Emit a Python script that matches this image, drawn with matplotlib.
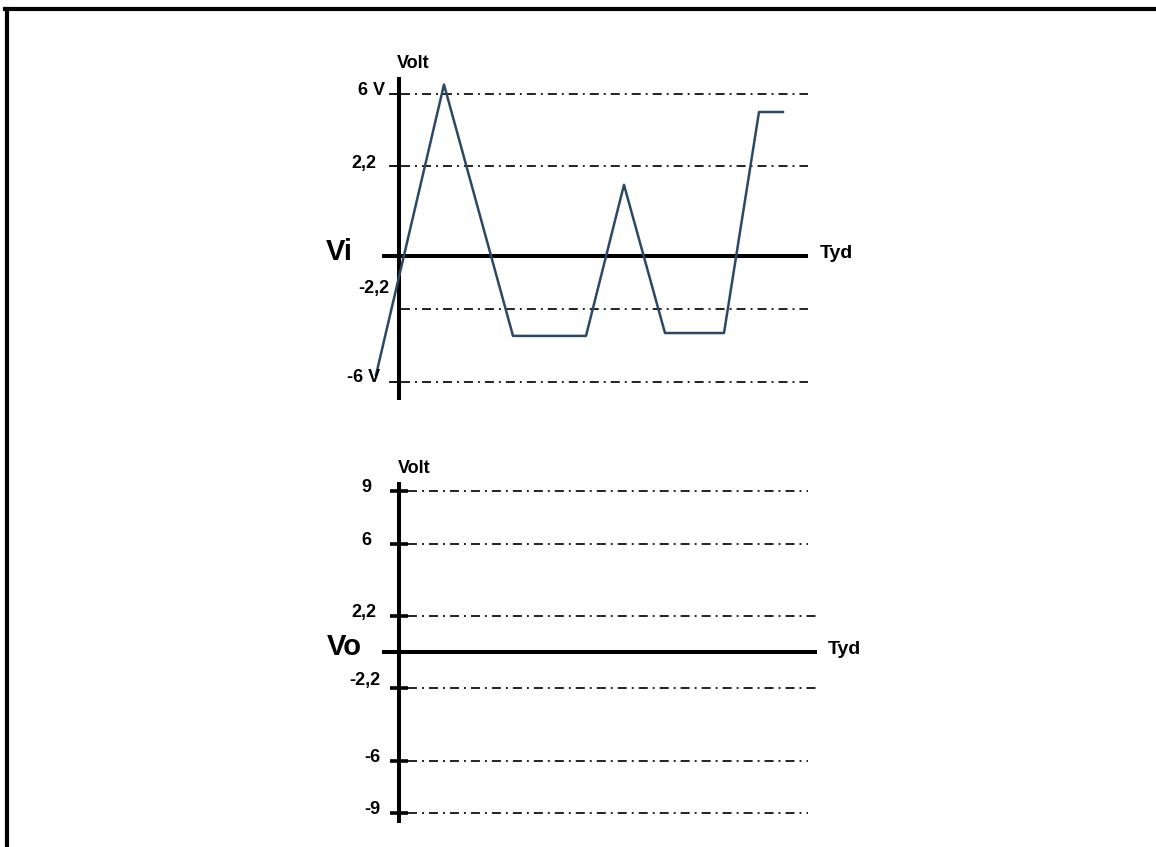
import numpy as np
import matplotlib.pyplot as plt
from matplotlib.lines import Line2D

plt.rcParams['font.family'] = ['Liberation Sans', 'DejaVu Sans']
plt.rcParams['font.weight'] = 'bold'
plt.rcParams['lines.scale_dashes'] = False

# input signal Vi: time (arbitrary units) and volts
vi_time = [-2.3, 4.5, 11.4, 18.7, 22.5, 26.6, 32.5, 36.0, 38.4]
vi_volts = [-5.64, 6.5, -3.6, -3.6, 1.74, -3.45, -3.45, 5.05, 5.05]

# reference levels and their labels
vi_levels = [6, 2.2, -2.2, -6]
vi_labels = ['6 V', '2,2', '-2,2', '-6 V']
vo_levels = [9, 6, 2.2, -2.2, -6, -9]
vo_labels = ['9', '6', '2,2', '-2,2', '-6', '-9']

W, H = 1156, 847
fig = plt.figure(figsize=(W / 100, H / 100), dpi=100)

# outer frame (only top and left edges are visible)
fig.add_artist(Line2D([7 / W, 7 / W], [0, 1 - 9 / H], color='black', lw=3,
                      transform=fig.transFigure))
fig.add_artist(Line2D([5 / W, 1], [1 - 9 / H, 1 - 9 / H], color='black', lw=3,
                      transform=fig.transFigure))


def sketch_scale(levels, px):
    # the hand drawn axis is not linear in volts, map levels to drawn height
    lv = np.array([0] + list(levels), float)
    pv = np.array([0] + list(px), float)
    o = np.argsort(lv)
    lv, pv = lv[o], pv[o]
    s0 = (pv[1] - pv[0]) / (lv[1] - lv[0])
    s1 = (pv[-1] - pv[-2]) / (lv[-1] - lv[-2])
    lv = np.concatenate([[lv[0] - 50], lv, [lv[-1] + 50]])
    pv = np.concatenate([[pv[0] - 50 * s0], pv, [pv[-1] + 50 * s1]])
    fwd = lambda v: np.interp(v, lv, pv)
    inv = lambda p: np.interp(p, pv, lv)
    return fwd, inv


def make_axes(left, top, width, height, zero_y, levels, px):
    ax = fig.add_axes([left / W, 1 - (top + height) / H, width / W, height / H])
    fwd, inv = sketch_scale(levels, px)
    ax.set_yscale('function', functions=(fwd, inv))
    ax.set_xlim((left - 399) / 10, (left + width - 399) / 10)
    ax.set_ylim(inv(zero_y - (top + height)), inv(zero_y - top))
    ax.axis('off')
    return ax


dashdot = (0, (6.5, 3.6, 1.4, 3.6))
lab_fs = 13

# ---------- Vi ----------
ax1 = make_axes(300, 40, 600, 380, 256, vi_levels, [162, 90, -53, -126])
for lev in vi_levels:
    ax1.plot([0.2, 40.9], [lev, lev], color='#222222', lw=1.4, ls=dashdot)
for lev in [6, 2.2, -6]:
    ax1.plot([-0.9, 0], [lev, lev], color='black', lw=1.3)
ax1.plot([-1.7, 40.9], [0, 0], color='black', lw=2.9, solid_capstyle='butt')
ax1.plot([0, 0], [-6.94, 6.9], color='black', lw=2.9, solid_capstyle='butt')
ax1.plot(vi_time, vi_volts, color='#2b4864', lw=1.8)

vi_offsets = [(-1.4, 4), (-2.3, 3), (-1.0, 21), (-1.9, 5)]
for lev, lab, (tx, dy) in zip(vi_levels, vi_labels, vi_offsets):
    ax1.annotate(lab, xy=(tx, lev), xytext=(0, dy * 0.72), textcoords='offset points',
                 ha='right', va='center', fontsize=lab_fs)
ax1.annotate('Vi', xy=(-4.6, 0), xytext=(0, 4 * 0.72), textcoords='offset points',
             ha='right', va='center', fontsize=21)
ax1.annotate('Volt', xy=(-0.2, 7.6), ha='left', va='center', fontsize=13)
ax1.annotate('Tyd', xy=(42.1, 0), xytext=(0, 3 * 0.72), textcoords='offset points',
             ha='left', va='center', fontsize=14)

# ---------- Vo ----------
ax2 = make_axes(300, 440, 600, 400, 652, vo_levels, [161, 108, 36, -36, -109, -161])
for lev in vo_levels:
    end = 41.8 if abs(lev) == 2.2 else 40.9
    ax2.plot([0.9, end], [lev, lev], color='#222222', lw=1.4, ls=dashdot)
    ax2.plot([-0.9, 0.9], [lev, lev], color='black', lw=2.6, solid_capstyle='butt')
ax2.plot([-1.7, 41.8], [0, 0], color='black', lw=2.9, solid_capstyle='butt')
ax2.plot([0, 0], [-9.56, 9.5], color='black', lw=2.9, solid_capstyle='butt')

vo_offsets = [(-2.8, 4), (-2.8, 4), (-2.3, 4), (-1.9, 7), (-1.9, 4), (-1.9, 4)]
for lev, lab, (tx, dy) in zip(vo_levels, vo_labels, vo_offsets):
    ax2.annotate(lab, xy=(tx, lev), xytext=(0, dy * 0.72), textcoords='offset points',
                 ha='right', va='center', fontsize=lab_fs)
ax2.annotate('Vo', xy=(-3.7, 0), xytext=(0, 5 * 0.72), textcoords='offset points',
             ha='right', va='center', fontsize=21)
ax2.annotate('Volt', xy=(-0.1, 10.3), ha='left', va='center', fontsize=13)
ax2.annotate('Tyd', xy=(42.9, 0), xytext=(0, 2 * 0.72), textcoords='offset points',
             ha='left', va='center', fontsize=14)

fig.savefig('out.png', dpi=100)
